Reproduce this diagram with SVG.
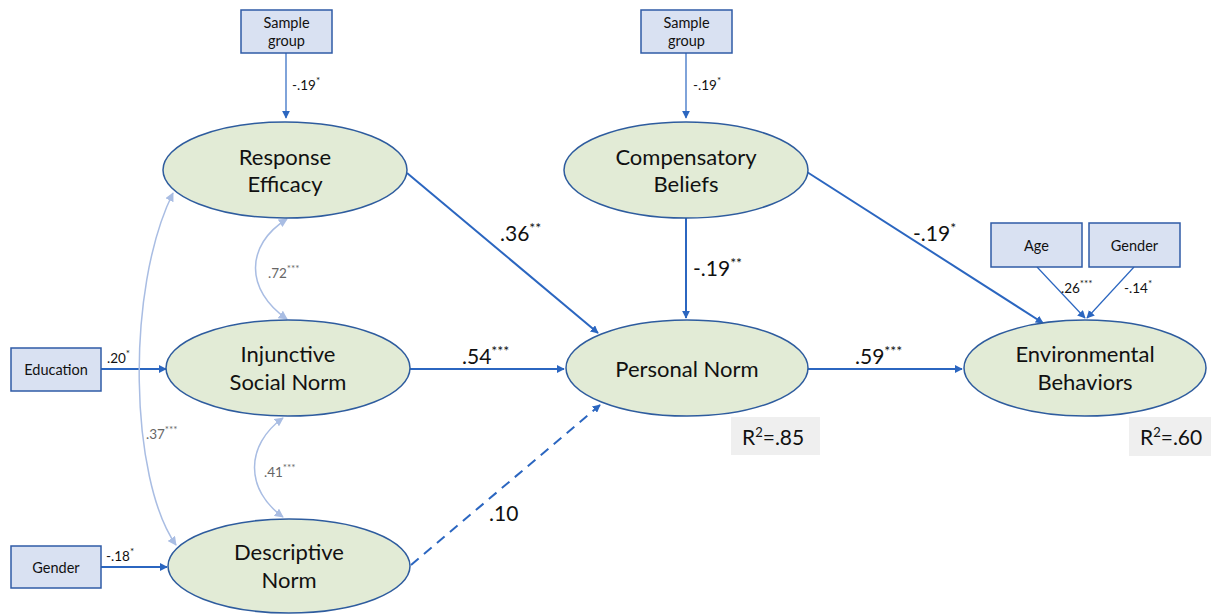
<svg xmlns="http://www.w3.org/2000/svg" width="1211" height="615" viewBox="0 0 1211 615">
<style>
.ell{fill:#e2ebd6;stroke:#2e5c9e;stroke-width:1.5}
.box{fill:#d9e1f2;stroke:#2f5ba6;stroke-width:1.5}
.r2{fill:#efefef}
.t{font-family:Lato,"Liberation Sans",sans-serif;fill:#111;text-anchor:middle}
.big{font-size:22px}
.sm{font-size:14.5px}
.lab{font-family:Lato,"Liberation Sans",sans-serif;fill:#111}
.lb{font-size:21px}
.ls{font-size:13.5px}
.lg{font-family:Lato,"Liberation Sans",sans-serif;fill:#666;font-size:13.5px}
.a{stroke:#2b66c0;fill:none}
.c{stroke:#a9bde3;fill:none;stroke-width:1.5}
</style>
<defs>
<marker id="ar" viewBox="0 0 10 10" refX="9" refY="5" markerWidth="8" markerHeight="8" markerUnits="userSpaceOnUse" orient="auto"><path d="M0,0 L10,5 L0,10 z" fill="#2b66c0"/></marker>
<marker id="cr" viewBox="0 0 10 10" refX="9" refY="5" markerWidth="9" markerHeight="9" markerUnits="userSpaceOnUse" orient="auto-start-reverse"><path d="M0,0 L10,5 L0,10 z" fill="#a9bde3"/></marker>
</defs>
<g id="connectors">
<line class="a" x1="286" y1="53" x2="286" y2="118" stroke-width="1.2" marker-end="url(#ar)"/>
<line class="a" x1="686" y1="53" x2="686" y2="118" stroke-width="1.2" marker-end="url(#ar)"/>
<line class="a" x1="101" y1="369" x2="166" y2="369" stroke-width="2" marker-end="url(#ar)"/>
<line class="a" x1="101" y1="567" x2="167" y2="567" stroke-width="2" marker-end="url(#ar)"/>
<line class="a" x1="407" y1="173" x2="598" y2="333" stroke-width="2" marker-end="url(#ar)"/>
<line class="a" x1="410" y1="369" x2="564" y2="369" stroke-width="2" marker-end="url(#ar)"/>
<line class="a" x1="411" y1="565" x2="600" y2="405" stroke-width="2" stroke-dasharray="10,7" marker-end="url(#ar)"/>
<line class="a" x1="686" y1="218" x2="686" y2="318" stroke-width="2" marker-end="url(#ar)"/>
<line class="a" x1="807" y1="172" x2="1043" y2="323" stroke-width="2" marker-end="url(#ar)"/>
<line class="a" x1="808" y1="369" x2="962" y2="369" stroke-width="2" marker-end="url(#ar)"/>
<line class="a" x1="1037" y1="267" x2="1085" y2="318" stroke-width="1.2" marker-end="url(#ar)"/>
<line class="a" x1="1134" y1="267" x2="1087" y2="318" stroke-width="1.2" marker-end="url(#ar)"/>
<path class="c" d="M287,219 C245,245 245,290 287,319" marker-start="url(#cr)" marker-end="url(#cr)"/>
<path class="c" d="M283,418 C245,445 245,490 283,517" marker-start="url(#cr)" marker-end="url(#cr)"/>
<path class="c" d="M173,193 C125,290 130,480 176,545" marker-start="url(#cr)" marker-end="url(#cr)"/>
</g>
<g id="labels">
<text class="lab ls" x="292" y="90">-.19<tspan font-size="10" dy="-6">*</tspan></text>
<text class="lab ls" x="693" y="90">-.19<tspan font-size="10" dy="-6">*</tspan></text>
<text class="lab ls" x="107" y="363">.20<tspan font-size="10" dy="-6">*</tspan></text>
<text class="lab ls" x="106" y="561">-.18<tspan font-size="10" dy="-6">*</tspan></text>
<text class="lg" x="268" y="278">.72<tspan font-size="10" dy="-6">***</tspan></text>
<text class="lg" x="264" y="477">.41<tspan font-size="10" dy="-6">***</tspan></text>
<text class="lg" x="146" y="439">.37<tspan font-size="10" dy="-6">***</tspan></text>
<text class="lab lb" x="500" y="241">.36<tspan font-size="14" dy="-8">**</tspan></text>
<text class="lab lb" x="462" y="364">.54<tspan font-size="14" dy="-8">***</tspan></text>
<text class="lab lb" x="489" y="521">.10</text>
<text class="lab lb" x="693" y="276">-.19<tspan font-size="14" dy="-8">**</tspan></text>
<text class="lab lb" x="913" y="241">-.19<tspan font-size="14" dy="-8">*</tspan></text>
<text class="lab lb" x="855" y="364">.59<tspan font-size="14" dy="-8">***</tspan></text>
<text class="lab ls" x="1061" y="293">.26<tspan font-size="10" dy="-6">***</tspan></text>
<text class="lab ls" x="1124" y="293">-.14<tspan font-size="10" dy="-6">*</tspan></text>
</g>
<g id="sample1"><rect class="box" x="241" y="10" width="91" height="43"/><text class="t sm" x="286.5" y="28">Sample</text><text class="t sm" x="286.5" y="46">group</text></g>
<g id="sample2"><rect class="box" x="641" y="10" width="91" height="43"/><text class="t sm" x="686.5" y="28">Sample</text><text class="t sm" x="686.5" y="46">group</text></g>
<g id="education"><rect class="box" x="11" y="348" width="90" height="43"/><text class="t sm" x="56" y="375">Education</text></g>
<g id="gender1"><rect class="box" x="11" y="546" width="90" height="42"/><text class="t sm" x="56" y="573">Gender</text></g>
<g id="age"><rect class="box" x="991" y="223" width="91" height="44"/><text class="t sm" x="1036.5" y="251">Age</text></g>
<g id="gender2"><rect class="box" x="1089" y="223" width="91" height="44"/><text class="t sm" x="1134.5" y="251">Gender</text></g>
<g id="response"><ellipse class="ell" cx="285" cy="170" rx="122" ry="48"/><text class="t big" x="285" y="165">Response</text><text class="t big" x="285" y="192">Efficacy</text></g>
<g id="injunctive"><ellipse class="ell" cx="288" cy="368" rx="122" ry="48"/><text class="t big" x="288" y="362">Injunctive</text><text class="t big" x="288" y="390">Social Norm</text></g>
<g id="descriptive"><ellipse class="ell" cx="289" cy="566" rx="121" ry="47"/><text class="t big" x="289" y="560">Descriptive</text><text class="t big" x="289" y="588">Norm</text></g>
<g id="compensatory"><ellipse class="ell" cx="686" cy="170" rx="122" ry="48"/><text class="t big" x="686" y="165">Compensatory</text><text class="t big" x="686" y="192">Beliefs</text></g>
<g id="personal"><ellipse class="ell" cx="687" cy="368" rx="121" ry="48"/><text class="t big" x="687" y="377">Personal Norm</text></g>
<g id="environmental"><ellipse class="ell" cx="1085" cy="368" rx="121" ry="48"/><text class="t big" x="1085" y="362">Environmental</text><text class="t big" x="1085" y="390">Behaviors</text></g>
<g id="r2a"><rect class="r2" x="731" y="417" width="89" height="38"/><text class="lab lb" x="742" y="445">R<tspan font-size="13" dy="-8">2</tspan><tspan dy="8">=.85</tspan></text></g>
<g id="r2b"><rect class="r2" x="1129" y="417" width="82" height="39"/><text class="lab lb" x="1140" y="445">R<tspan font-size="13" dy="-8">2</tspan><tspan dy="8">=.60</tspan></text></g>
</svg>
